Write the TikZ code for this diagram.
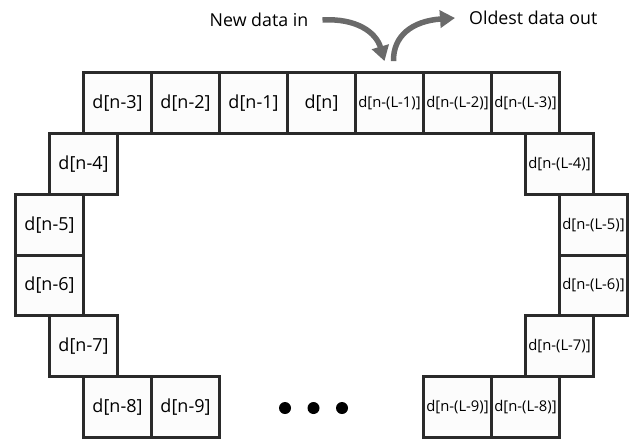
\documentclass[tikz,border=0pt]{standalone}
\usepackage{fontspec}
\setmainfont{Open Sans}
\usetikzlibrary{arrows.meta}
\definecolor{cellline}{HTML}{2A2A2A}
\definecolor{cellfill}{HTML}{FCFCFC}
\definecolor{flow}{HTML}{6A6A6A}
\tikzset{
  cell/.style={draw=cellline, fill=cellfill, line width=3pt,
    minimum width=68pt, minimum height=60.8pt, inner sep=0pt,
    font=\fontsize{18}{21}\selectfont},
  cellsm/.style={cell, font=\fontsize{14.8}{17}\selectfont},
  caption/.style={font=\fontsize{17.8}{20}\selectfont, inner sep=0pt},
  flowarrow/.style={draw=flow, line width=5.5pt,
    -{Triangle[length=15pt,width=17pt]}},
  dot/.style={circle, fill=black, minimum size=12pt, inner sep=0pt}
}
\begin{document}
\begin{tikzpicture}[x=1pt,y=-1pt]
\useasboundingbox (0,0) rectangle (644,440);

% top row of the ring buffer
\node[cell]   (a3) at (117.5,103) {d[n-3]};
\node[cell]   (a2) at (185.5,103) {d[n-2]};
\node[cell]   (a1) at (253.5,103) {d[n-1]};
\node[cell]   (a0) at (321.5,103) {d[n]};
\node[cellsm] (b1) at (389.5,103) {d[n-(L-1)]};
\node[cellsm] (b2) at (457.5,103) {d[n-(L-2)]};
\node[cellsm] (b3) at (525.5,103) {d[n-(L-3)]};

% left side
\node[cell] (a4) at (83.5,163.8) {d[n-4]};
\node[cell] (a5) at (49.5,224.6) {d[n-5]};
\node[cell] (a6) at (49.5,285.4) {d[n-6]};
\node[cell] (a7) at (83.5,346.2) {d[n-7]};
\node[cell] (a8) at (117.5,407) {d[n-8]};
\node[cell] (a9) at (185.5,407) {d[n-9]};

% right side
\node[cellsm] (b4) at (559.5,163.8) {d[n-(L-4)]};
\node[cellsm] (b5) at (593.5,224.6) {d[n-(L-5)]};
\node[cellsm] (b6) at (593.5,285.4) {d[n-(L-6)]};
\node[cellsm] (b7) at (559.5,346.2) {d[n-(L-7)]};
\node[cellsm] (b8) at (525.5,407) {d[n-(L-8)]};
\node[cellsm] (b9) at (457.5,407) {d[n-(L-9)]};

% ellipsis
\node[dot] (e1) at (285,408) {};
\node[dot] (e2) at (313.5,408) {};
\node[dot] (e3) at (342,408) {};

% data in / data out
\node[caption] (newin) at (259,20) {New data in};
\node[caption, anchor=west] (oldout) at (469,18) {Oldest data out};
\coordinate (inend) at ([xshift=-5pt,yshift=10pt]b1.north);
\coordinate (outstart) at ([xshift=4pt,yshift=10pt]b1.north);

\draw[flowarrow] ([xshift=14pt]newin.east) .. controls (356,18) and (376,32) .. (inend);
\draw[flowarrow] (outstart) .. controls (393,36) and (412,21) .. ([xshift=-14pt]oldout.west);
\end{tikzpicture}
\end{document}
